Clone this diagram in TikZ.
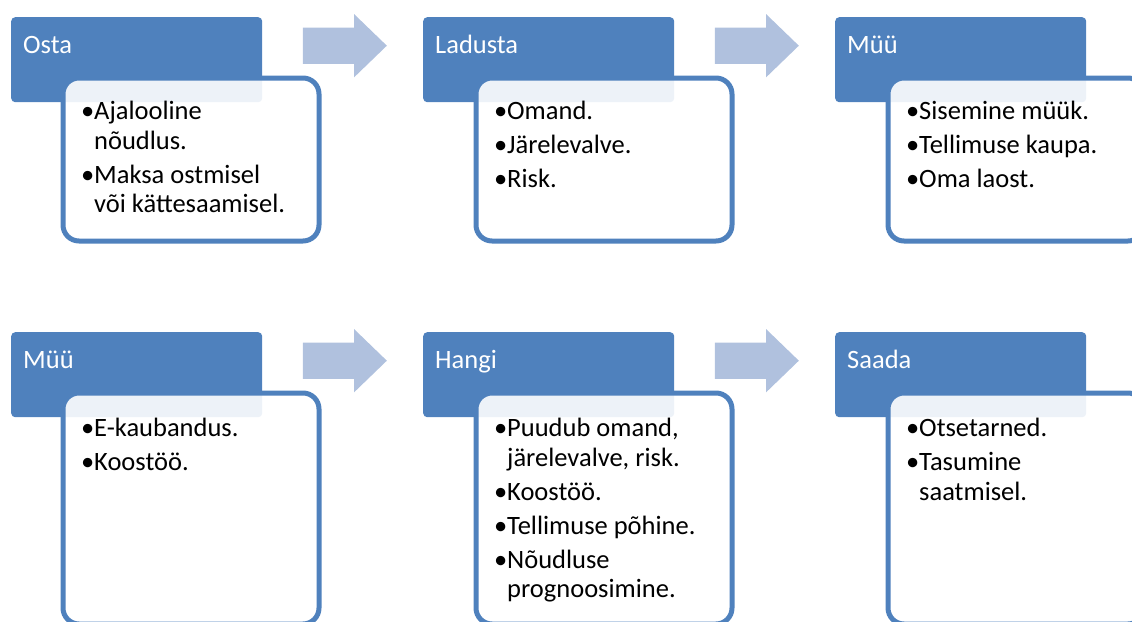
\documentclass[tikz,border=0pt]{standalone}
\usepackage{fontspec}
\setmainfont{Carlito}
\usepackage{xcolor}
\usepackage{tikz}
\usetikzlibrary{shapes.arrows,positioning,calc}
\definecolor{hdblue}{HTML}{4F81BD}
\definecolor{arrowblue}{HTML}{B0C1DE}

\begin{document}
\begin{tikzpicture}[
    x=1pt, y=-1pt,
    font=\fontsize{26.5}{29.5}\selectfont,
    head/.style={rectangle, fill=hdblue, rounded corners=4pt, anchor=north west, text=white, align=flush left, text width=227pt, inner xsep=12pt, inner ysep=0pt, text height=36pt, text depth=49pt},
    body/.style={rectangle, draw=hdblue, line width=5pt, fill=white, fill opacity=0.9, text opacity=1, rounded corners=16pt, anchor=north west, align=flush left, text width=220pt, inner xsep=18pt, inner ysep=0pt, text height=41.5pt, text depth=121.5pt},
    tallbody/.style={body, text height=43.5pt, text depth=187.5pt},
    blockarrow/.style={single arrow, fill=arrowblue, minimum height=84pt, single arrow head extend=13.5pt, single arrow tip angle=88, text height=36pt, text depth=0pt, inner sep=0pt}
]
    \useasboundingbox (0,0) rectangle (1132,621);

    % Top row
    \node[head] (hdosta) at (11,17) {Osta};
    \node[body] (bdosta) at ([shift={(49.5,58.5)}]hdosta.north west) {%
        •Ajalooline\\\hphantom{•}nõudlus.\\[4.5pt]
        •Maksa ostmisel\\\hphantom{•}või kättesaamisel.};
    \node[head] (hdladusta) at (423,17) {Ladusta};
    \node[body] (bdladusta) at ([shift={(50.5,58.5)}]hdladusta.north west) {%
        •Omand.\\[4.5pt]•Järelevalve.\\[4.5pt]•Risk.};
    \node[head] (hdmyyk) at (835,17) {Müü};
    \node[body] (bdmyyk) at ([shift={(50.5,58.5)}]hdmyyk.north west) {%
        •Sisemine müük.\\[4.5pt]•Tellimuse kaupa.\\[4.5pt]•Oma laost.};

    \node[blockarrow] (arosta) at ([shift={(73,-14)}]hdosta.east) {};
    \node[blockarrow] (arladusta) at ([shift={(73,-14)}]hdladusta.east) {};

    % Bottom row
    \node[head] (hdmyy) at (11,332) {Müü};
    \node[tallbody] (bdmyy) at ([shift={(49.5,58.5)}]hdmyy.north west) {%
        •E-kaubandus.\\[4.5pt]•Koostöö.};
    \node[head] (hdhangi) at (423,332) {Hangi};
    \node[tallbody] (bdhangi) at ([shift={(50.5,58.5)}]hdhangi.north west) {%
        •Puudub omand,\\\hphantom{•}järelevalve, risk.\\[4.5pt]
        •Koostöö.\\[4.5pt]•Tellimuse põhine.\\[4.5pt]
        •Nõudluse\\\hphantom{•}prognoosimine.};
    \node[head] (hdsaada) at (835,332) {Saada};
    \node[tallbody] (bdsaada) at ([shift={(50.5,58.5)}]hdsaada.north west) {%
        •Otsetarned.\\[4.5pt]•Tasumine\\\hphantom{•}saatmisel.};

    \node[blockarrow] (armyy) at ([shift={(73,-14)}]hdmyy.east) {};
    \node[blockarrow] (arhangi) at ([shift={(73,-14)}]hdhangi.east) {};
\end{tikzpicture}
\end{document}
